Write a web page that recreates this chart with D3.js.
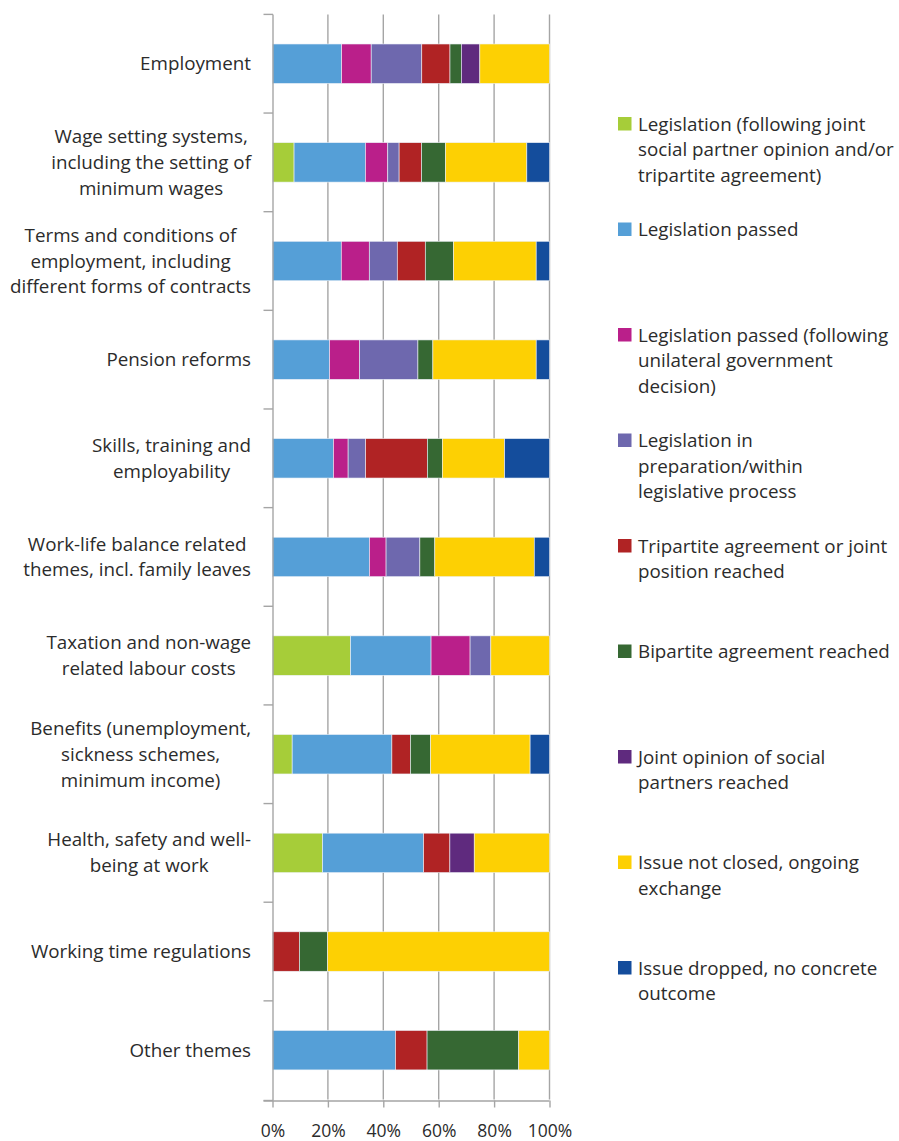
<!DOCTYPE html>
<html>
<head>
<meta charset="utf-8">
<script src="https://cdn.jsdelivr.net/npm/d3@7"></script>
<style>
  html, body { margin: 0; padding: 0; background: #fff; }
  svg { display: block; font-family: "Open Sans", "Noto Sans", sans-serif; }
</style>
</head>
<body>
<svg id="chart" width="899" height="1141"></svg>
<script>
// Themes (top to bottom)
const categories = [
  "Employment",
  "Wage setting systems,|including the setting of|minimum wages",
  "Terms and conditions of|employment, including|different forms of contracts",
  "Pension reforms",
  "Skills, training and|employability",
  "Work-life balance related|themes, incl. family leaves",
  "Taxation and non-wage|related labour costs",
  "Benefits (unemployment,|sickness schemes,|minimum income)",
  "Health, safety and well-|being at work",
  "Working time regulations",
  "Other themes"
];

// Outcome shares (%) per theme, one array per outcome
const legislationJoint      = [0,    7.8,  0,    0,    0,    0,    28.2, 7.1,  18.1, 0,    0];
const legislationPassed     = [25.0, 25.8, 24.8, 20.6, 22.0, 35.0, 29.1, 36.0, 36.5, 0,    44.4];
const legislationUnilateral = [10.7, 8.1,  10.1, 10.8, 5.3,  6.0,  14.1, 0,    0,    0,    0];
const legislationInPrep     = [18.3, 4.1,  10.1, 21.1, 6.3,  12.2, 7.5,  0,    0,    0,    0];
const tripartiteAgreement   = [10.2, 8.1,  10.1, 0,    22.3, 0,    0,    6.7,  9.5,  9.7,  11.4];
const bipartiteAgreement    = [4.1,  8.7,  10.2, 5.4,  5.4,  5.4,  0,    7.3,  0,    10.2, 33.1];
const jointOpinion          = [6.7,  0,    0,    0,    0,    0,    0,    0,    8.8,  0,    0];
const issueNotClosed        = [25.2, 29.4, 29.8, 37.3, 22.5, 35.9, 21.2, 35.9, 27.2, 80.0, 11.1];
const issueDropped          = [0,    8.2,  4.8,  4.8,  16.2, 5.5,  0,    7.0,  0,    0,    0];

const seriesKeys = ["legJoint", "legPassed", "legUni", "legPrep", "tri", "bi", "joint", "open", "dropped"];
const seriesValues = [legislationJoint, legislationPassed, legislationUnilateral, legislationInPrep,
  tripartiteAgreement, bipartiteAgreement, jointOpinion, issueNotClosed, issueDropped];
const seriesLabels = [
  ["Legislation (following joint", "social partner opinion and/or", "tripartite agreement)"],
  ["Legislation passed"],
  ["Legislation passed (following", "unilateral government", "decision)"],
  ["Legislation in", "preparation/within", "legislative process"],
  ["Tripartite agreement or joint", "position reached"],
  ["Bipartite agreement reached"],
  ["Joint opinion of social", "partners reached"],
  ["Issue not closed, ongoing", "exchange"],
  ["Issue dropped, no concrete", "outcome"]
];
const seriesColors = ["#a6cd39", "#559fd7", "#ba1f8a", "#6e68ae", "#b02324", "#366833", "#5f2a7e", "#fdd003", "#144d9c"];

const xTicks = [0, 0.2, 0.4, 0.6, 0.8, 1];

// Table for d3.stack
const table = categories.map((c, i) => {
  const row = { category: c };
  seriesKeys.forEach((k, j) => { row[k] = seriesValues[j][i]; });
  return row;
});

const stacked = d3.stack().keys(seriesKeys).offset(d3.stackOffsetExpand)(table);

const svg = d3.select("#chart");
const plot = { left: 272.5, right: 549.5, top: 14.4, bottom: 1099.5 };
const gridColor = "#a5a5a5";
const textColor = "#2b2b2b";
const fontSize = 18.8;

const x = d3.scaleLinear().domain([0, 1]).range([plot.left, plot.right]);
const yBand = d3.scaleBand().domain(categories).range([plot.top, plot.bottom]).padding(0);
const yBar = d3.scaleBand().domain(categories).range([plot.top, plot.bottom])
  .paddingInner(0.6).paddingOuter(0.3);
const color = d3.scaleOrdinal().domain(seriesKeys).range(seriesColors);

// Vertical gridlines
svg.append("g")
  .selectAll("line")
  .data(xTicks.slice(1))
  .join("line")
  .attr("x1", d => x(d)).attr("x2", d => x(d))
  .attr("y1", plot.top).attr("y2", plot.bottom)
  .attr("stroke", gridColor).attr("stroke-width", 1.4);

// Stacked bars
svg.append("g")
  .selectAll("g")
  .data(stacked)
  .join("g")
  .attr("fill", d => color(d.key))
  .selectAll("rect")
  .data(d => d.filter(s => s[1] - s[0] > 0))
  .join("rect")
  .attr("x", d => x(d[0]))
  .attr("width", d => x(d[1]) - x(d[0]))
  .attr("y", d => yBar(d.data.category))
  .attr("height", yBar.bandwidth())
  .attr("stroke", "#eef2f8")
  .attr("stroke-width", 0.6);

// Category axis
const yAxis = d3.axisLeft(yBand)
  .tickValues([])
  .tickSizeOuter(0);
const yAxisG = svg.append("g").attr("transform", `translate(${plot.left},0)`).call(yAxis);
yAxisG.select(".domain").attr("stroke", gridColor).attr("stroke-width", 1.4)
  .attr("d", `M0.5,${plot.top}V${plot.bottom + 1}`);

// Category boundary ticks
const boundaries = categories.map(c => yBand(c)).concat([plot.bottom + 1]);
svg.append("g")
  .selectAll("line")
  .data(boundaries)
  .join("line")
  .attr("x1", plot.left - 9).attr("x2", plot.left + 0.5)
  .attr("y1", d => d).attr("y2", d => d)
  .attr("stroke", gridColor).attr("stroke-width", 1.4);

// Category labels: lines centred in a block right-aligned to the axis
const labelG = svg.append("g")
  .attr("font-size", fontSize).attr("fill", textColor);
const labelRight = 251;
const lineH = 25.8;
categories.forEach(c => {
  const lines = c.split("|");
  const t = labelG.append("text").attr("text-anchor", "middle");
  const cy = yBand(c) + yBand.bandwidth() / 2;
  const y0 = cy - (lines.length - 1) * lineH / 2 + 6.5;
  const spans = lines.map((ln, i) => t.append("tspan").attr("y", y0 + i * lineH).text(ln));
  const maxW = d3.max(spans, s => s.node().getComputedTextLength());
  spans.forEach(s => s.attr("x", labelRight - maxW / 2));
});

// Value axis
const xAxis = d3.axisBottom(x)
  .tickValues(xTicks)
  .tickFormat(d3.format(".0%"))
  .tickSize(7)
  .tickSizeOuter(0)
  .tickPadding(17);
const xAxisG = svg.append("g").attr("transform", `translate(0,${plot.bottom + 1})`).call(xAxis);
xAxisG.select(".domain").attr("stroke", gridColor).attr("stroke-width", 1.4)
  .attr("d", `M${plot.left - 9},0.5H${plot.right}`);
xAxisG.selectAll(".tick line").attr("stroke", gridColor).attr("stroke-width", 1.4);
xAxisG.selectAll(".tick text")
  .attr("fill", textColor).attr("font-size", 17.5)
  .attr("font-family", "'Open Sans', 'Noto Sans', sans-serif");

// Legend
const legend = svg.append("g").attr("font-size", fontSize).attr("fill", textColor);
const legendTop = 124, legendStep = 105.5, legendLine = 25.5;
seriesKeys.forEach((k, i) => {
  const gy = legendTop + i * legendStep;
  legend.append("rect")
    .attr("x", 618).attr("y", gy - 7).attr("width", 13.5).attr("height", 13.5)
    .attr("fill", color(k));
  const t = legend.append("text");
  seriesLabels[i].forEach((ln, j) => {
    t.append("tspan").attr("x", 638).attr("y", gy + 6.5 + j * legendLine).text(ln);
  });
});
</script>
</body>
</html>
